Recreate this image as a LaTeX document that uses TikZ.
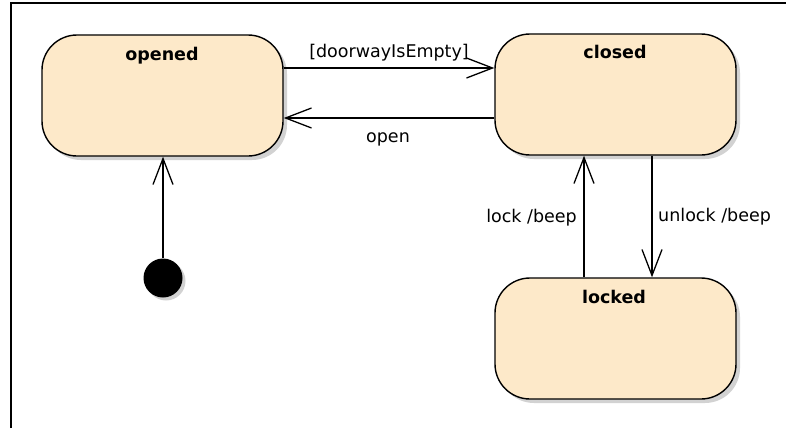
\documentclass[tikz,border=0pt]{standalone}
\usepackage{fontspec}
\setmainfont{DejaVu Sans}
\usetikzlibrary{arrows.meta,shadows,calc}
\definecolor{statefill}{RGB}{253,233,201}
\begin{document}
\begin{tikzpicture}[x=1pt,y=-1pt,
  frame/.style={line width=1.4pt},
  state/.style={draw, line width=1.4pt, fill=statefill, rounded corners=35pt,
     minimum width=241pt, minimum height=121pt, inner sep=0pt,
     drop shadow={shadow xshift=4pt, shadow yshift=-4pt, fill=black!25, opacity=0.7}},
  title/.style={anchor=base, font=\fontsize{17.5}{20}\selectfont\bfseries, inner sep=0pt},
  lbl/.style={anchor=base, font=\fontsize{17.5}{20}\selectfont, inner sep=0pt},
  tr/.style={line width=1.3pt, -{Straight Barb[length=26pt,width=20pt,line width=1.3pt]}},
  initstate/.style={circle, fill=black, minimum size=39pt, inner sep=0pt,
     drop shadow={shadow xshift=3pt, shadow yshift=-3pt, fill=black!25, opacity=0.7}}
]
\useasboundingbox (0,0) rectangle (786,428);
\draw[frame] (11,428) -- (11,3) -- (786,3);

\node[state] (opened) at (162.5,95.5) {};
\node[state] (closed) at (615.5,94.5) {};
\node[state] (locked) at (615.5,338.5) {};
\node[initstate] (init) at (163,278) {};

\node[title] (topened) at (162,60) {opened};
\node[title] (tclosed) at (615,59) {closed};
\node[title] (tlocked) at (614,303) {locked};

\draw[tr] (opened.east |- 0,68) -- (closed.west |- 0,68);
\draw[tr] (closed.west |- 0,118) -- (opened.east |- 0,118);
\draw[tr] (closed.south -| 652,0) -- (locked.north -| 652,0);
\draw[tr] (locked.north -| 584,0) -- (closed.south -| 584,0);
\draw[tr] (init) -- (init |- opened.south);

\node[lbl] (l1) at (389,57) {[doorwayIsEmpty]};
\node[lbl] (l2) at (388,142) {open};
\node[lbl, anchor=base east] (l3) at (577,222) {lock /beep};
\node[lbl, anchor=base west] (l4) at (658,221) {unlock /beep};
\end{tikzpicture}
\end{document}
